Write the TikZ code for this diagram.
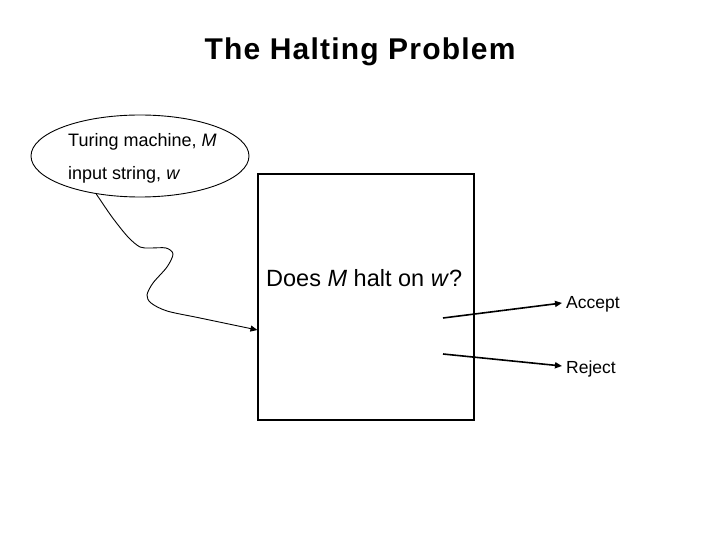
\documentclass[tikz,border=0pt]{standalone}
\usepackage{fontspec}
\setmainfont{Liberation Sans}
\newfontfamily\titlefont[LetterSpace=4]{Liberation Sans}
\usetikzlibrary{shapes.geometric,arrows.meta}
\begin{document}
\begin{tikzpicture}[x=1pt,y=-1pt,
  lbl/.style={inner sep=0pt,anchor=base west,font=\fontsize{18}{21}\selectfont},
  outlbl/.style={inner sep=0pt,anchor=base west,font=\fontsize{17.5}{21}\selectfont},
  outarrow/.style={line width=1.6pt,-{Triangle[length=7pt,width=6pt]}},
  inarrow/.style={line width=0.9pt,-{Triangle[length=7pt,width=6pt]}}]
\useasboundingbox (0,0) rectangle (720,540);
\fill[white] (0,0) rectangle (720,540);
\node[inner sep=0pt,anchor=base,font=\titlefont\bfseries\fontsize{30}{34}\selectfont] (title) at (360,60) {The Halting Problem};
\node[draw,ellipse,line width=0.9pt,minimum width=218pt,minimum height=82pt,inner sep=0pt] (ell) at (140,156) {};
\node[lbl] (tm) at (68,147) {Turing machine, \textit{M}};
\node[lbl] (is) at (68,180) {input string, \textit{w}};
\node[draw,line width=1.1pt,minimum width=216pt,minimum height=246pt,inner sep=0pt] (box) at (366,297) {};
\node[inner sep=0pt,anchor=base west,font=\fontsize{23.5}{28}\selectfont] (q) at (266,286) {Does \textit{M} halt on \textit{w}?};
\node[outlbl] (acc) at (566,308) {Accept};
\node[outlbl] (rej) at (566,373) {Reject};
\coordinate (a0) at (443,318);
\coordinate (r0) at (443,354);
\coordinate (a1) at (562,303);
\coordinate (r1) at (562,366);
\coordinate (in) at (box.west |- 0,330);
\draw[outarrow] (a0) -- (a1);
\draw[outarrow] (r0) -- (r1);
\draw[inarrow] plot[smooth,tension=0.5] coordinates {(ell.221.5) (112,217) (128,237) (140,247) (150,248) (166,248) (173,254) (167,267) (153,283) (147,295) (151,303) (167,311) (200,318) (in)};
\end{tikzpicture}
\end{document}
